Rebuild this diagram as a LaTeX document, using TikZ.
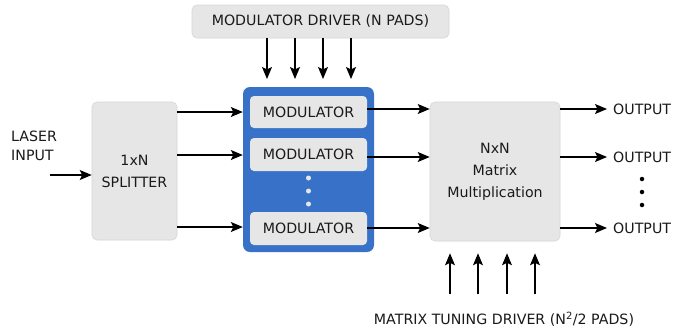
\documentclass[tikz,border=0pt]{standalone}
\usepackage{fontspec}
\setmainfont{DejaVu Sans}
\usetikzlibrary{arrows.meta,calc}
\definecolor{boxgray}{HTML}{E6E6E6}
\definecolor{boxedge}{HTML}{D6D6D6}
\definecolor{modblue}{HTML}{3872C8}
\definecolor{txt}{HTML}{1A1A1A}
\tikzset{
  graybox/.style={draw=boxedge, line width=0.6pt, fill=boxgray, rounded corners=5pt, inner sep=0pt, text=txt, align=center},
  modbox/.style={graybox, draw=none, fill=boxgray, minimum width=117pt, minimum height=32pt, rounded corners=4pt},
  arr/.style={draw=black, line width=1.1pt, -{Stealth[length=12pt,width=10pt,inset=2.5pt]}},
  lbl/.style={text=txt, inner sep=0pt, align=left},
  dotw/.style={circle, fill=#1, inner sep=0pt, minimum size=5pt},
}
\begin{document}
\begin{tikzpicture}[x=1pt,y=-1pt,font=\fontsize{14.2pt}{19pt}\selectfont]
\useasboundingbox[fill=white] (0,0) rectangle (689,333);

% top driver
\node[graybox, minimum width=257pt, minimum height=33pt] (drv) at (320.5,21.5) {MODULATOR DRIVER (N PADS)};

% blue modulator array
\node[fill=modblue, rounded corners=7pt, minimum width=131pt, minimum height=165pt, inner sep=0pt] (blue) at (308.5,169.5) {};
\node[modbox] (m1) at (308.5,112) {MODULATOR};
\node[modbox, minimum height=33pt] (m2) at (308.5,154.5) {MODULATOR};
\node[modbox, minimum height=33pt] (m3) at (308.5,228.5) {MODULATOR};
\node[dotw=boxgray] (bd1) at (308.5,178) {};
\node[dotw=boxgray] (bd2) at (308.5,191) {};
\node[dotw=boxgray] (bd3) at (308.5,204) {};

% splitter
\node[graybox, minimum width=85pt, minimum height=138pt] (spl) at (134.5,171) {1xN\\[3pt]SPLITTER};

% matrix
\node[graybox, minimum width=130pt, minimum height=139pt] (mat) at (495,171.5) {NxN\\[3pt]Matrix\\[3pt]Multiplication};

% laser input
\node[lbl, anchor=north west] (laser) at (11,131) {LASER\\INPUT};
\coordinate (lin) at (50,175);
\draw[arr] (lin) -- (lin -| spl.west);

% splitter -> modulators
\foreach \y in {112,155,227}{
  \draw[arr] (spl.east |- 0,\y) -- (blue.west |- 0,\y);
}

% driver -> modulators
\foreach \x in {267,295,323,351}{
  \draw[arr] (drv.south -| \x,0) -- (\x,79);
}

% modulators -> matrix
\draw[arr] (m1.east |- 0,109) -- (mat.west |- 0,109);
\draw[arr] (m2.east |- 0,157) -- (mat.west |- 0,157);
\draw[arr] (m3.east |- 0,228) -- (mat.west |- 0,228);

% outputs
\foreach \y/\n in {109/o1,157/o2,228/o3}{
  \node[lbl, anchor=west] (\n) at (613,\y) {OUTPUT};
  \draw[arr] (mat.east |- 0,\y) -- (\n.west -| 607,0);
}
\node[dotw=black, minimum size=4.5pt] (od1) at (642,179) {};
\node[dotw=black, minimum size=4.5pt] (od2) at (642,192) {};
\node[dotw=black, minimum size=4.5pt] (od3) at (642,205) {};

% matrix tuning driver
\node[lbl] (tune) at (504,319) {MATRIX TUNING DRIVER (N\textsuperscript{2}/2 PADS)};
\foreach \x in {450,478,507,535}{
  \draw[arr] (\x,294) -- ($(mat.south -| \x,0)+(0,12)$);
}
\end{tikzpicture}
\end{document}
